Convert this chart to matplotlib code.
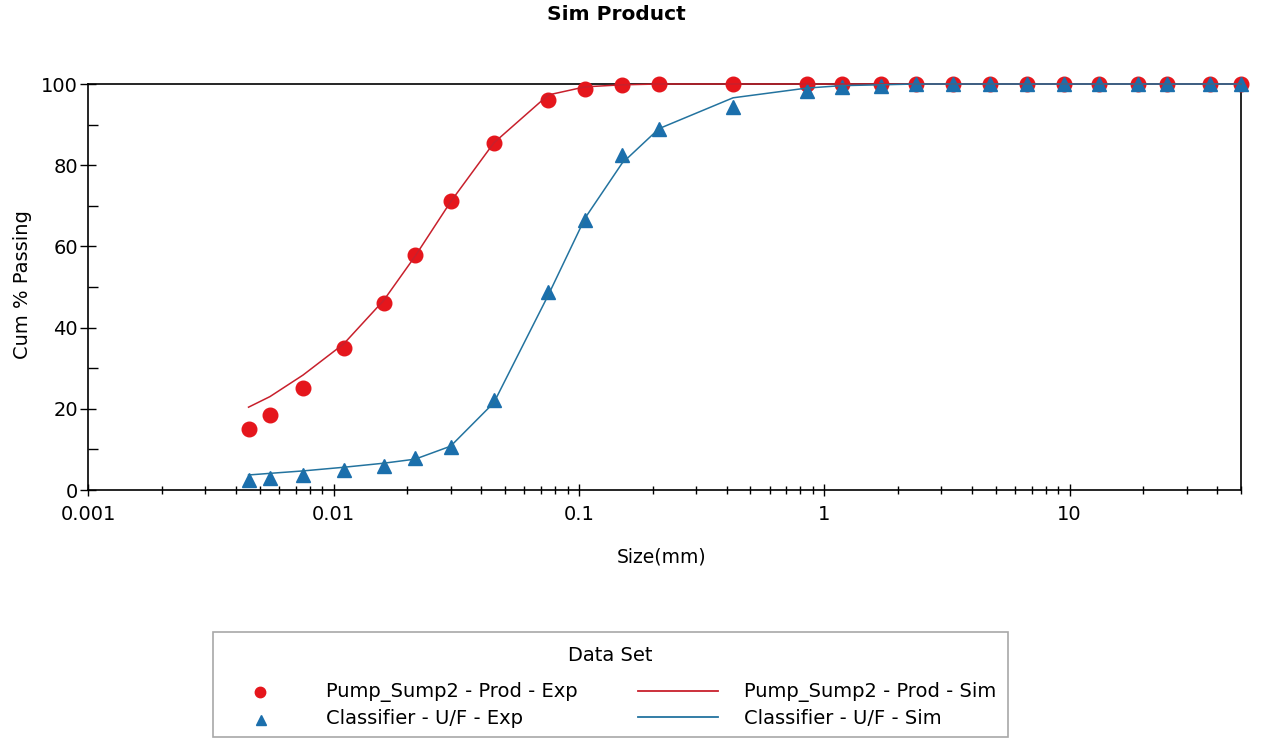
import matplotlib
matplotlib.use("Agg")
import matplotlib.pyplot as plt
from matplotlib.ticker import FixedLocator, FuncFormatter, MultipleLocator, LogLocator, NullFormatter
from matplotlib.patches import Rectangle
from matplotlib.lines import Line2D

plt.rcParams['font.family'] = ['DejaVu Sans']

# Sieve sizes (mm) and cumulative % passing
sizes = [0.0045, 0.0055, 0.0075, 0.011, 0.016, 0.0215, 0.03, 0.045, 0.075,
         0.106, 0.15, 0.212, 0.425, 0.85, 1.18, 1.7, 2.36, 3.35, 4.75, 6.7,
         9.5, 13.2, 19.0, 25.0, 37.5, 50.0]

pump_exp = [15.0, 18.5, 25.2, 34.9, 46.1, 58.0, 71.1, 85.4, 96.1, 98.8,
            99.8, 100, 100, 100, 100, 100, 100, 100, 100, 100,
            100, 100, 100, 100, 100, 100]
pump_sim = [20.4, 23.0, 28.3, 36.0, 46.7, 57.6, 71.0, 85.5, 97.3, 99.3,
            99.8, 100, 100, 100, 100, 100, 100, 100, 100, 100,
            100, 100, 100, 100, 100, 100]

clf_exp = [2.5, 2.9, 3.7, 4.9, 5.9, 7.8, 10.6, 22.2, 48.8, 66.4,
           82.4, 88.9, 94.3, 98.2, 99.3, 99.4, 100, 100, 100, 100,
           100, 100, 100, 100, 100, 100]
clf_sim = [3.7, 4.1, 4.7, 5.6, 6.6, 7.6, 10.8, 21.5, 48.0, 67.0,
           80.5, 89.0, 96.6, 99.0, 99.6, 99.8, 100, 100, 100, 100,
           100, 100, 100, 100, 100, 100]

labels = ["Pump_Sump2 - Prod - Exp", "Classifier - U/F - Exp",
          "Pump_Sump2 - Prod - Sim", "Classifier - U/F - Sim"]
x_tick_vals = [0.001, 0.01, 0.1, 1, 10]

RED_PT = '#e5161c'
BLUE_PT = '#1b6fac'
RED_LN = '#c8202c'
BLUE_LN = '#23739f'

W, H = 1264, 740
fig = plt.figure(figsize=(W / 100, H / 100), dpi=100, facecolor='white')

L, R, T, B = 88.3, 1241.0, 84.0, 490.0
ax = fig.add_axes([L / W, 1 - B / H, (R - L) / W, (B - T) / H])

ax.plot(sizes, pump_exp, linestyle='none', marker='o', ms=10.5, color=RED_PT,
        mec=RED_PT, clip_on=False, zorder=3)
ax.plot(sizes, clf_exp, linestyle='none', marker='^', ms=9.5, color=BLUE_PT,
        mec=BLUE_PT, clip_on=False, zorder=3.1)
ax.plot(sizes, pump_sim, color=RED_LN, lw=1.1, clip_on=False, zorder=3.2)
ax.plot(sizes, clf_sim, color=BLUE_LN, lw=1.1, clip_on=False, zorder=3.3)

ax.set_xscale('log')
ax.set_xlim(0.001, 50)
ax.set_ylim(0, 100)

ax.xaxis.set_major_locator(FixedLocator(x_tick_vals))
ax.xaxis.set_major_formatter(FuncFormatter(lambda v, p: '%g' % v))
ax.xaxis.set_minor_locator(LogLocator(base=10, subs=range(2, 10), numticks=50))
ax.xaxis.set_minor_formatter(NullFormatter())
ax.yaxis.set_major_locator(MultipleLocator(20))
ax.yaxis.set_minor_locator(MultipleLocator(10))

ax.tick_params(axis='x', which='major', direction='inout', length=9, width=1,
               labelsize=14, pad=6)
ax.tick_params(axis='x', which='minor', direction='inout', length=6, width=1)
ax.tick_params(axis='y', which='major', direction='inout', length=11, width=1,
               labelsize=14, pad=2)
ax.tick_params(axis='y', which='minor', direction='in', length=7, width=1)

for s in ax.spines.values():
    s.set_linewidth(1.2)
    s.set_color('black')

ax.set_xlabel('Size(mm)', fontsize=13.5, va='center')
ax.xaxis.set_label_coords((662 - L) / (R - L), (B - 557) / (B - T))
ax.set_ylabel('Cum % Passing', fontsize=14, va='center')
ax.yaxis.set_label_coords((22.5 - L) / (R - L), (B - 285) / (B - T))

fig.text(616 / W, 1 - 15 / H, 'Sim Product', fontsize=14.5, fontweight='bold',
         ha='center', va='center')

# Legend panel
bx0, by0, bx1, by1 = 212.7, 631.7, 1008.3, 736.7
lg = fig.add_axes([bx0 / W, 1 - by1 / H, (bx1 - bx0) / W, (by1 - by0) / H])
lg.set_xlim(0, bx1 - bx0)
lg.set_ylim(by1 - by0, 0)
lg.axis('off')
lg.add_patch(Rectangle((0, 0), bx1 - bx0, by1 - by0, fill=False,
                       edgecolor='#a8a8a8', lw=1.2, clip_on=False))
lg.text(397.3, 23.3, 'Data Set', fontsize=14, ha='center', va='center')

row_y = [60.0, 86.5]
lg.add_line(Line2D([47.3], [row_y[0]], marker='o', ms=7.5, color=RED_PT, ls='none'))
lg.add_line(Line2D([48.5], [row_y[1] + 1.5], marker='^', ms=6.5, color=BLUE_PT, ls='none'))
lg.add_line(Line2D([425.3, 505.3], [row_y[0] - 1, row_y[0] - 1], color=RED_LN, lw=1.3))
lg.add_line(Line2D([425.3, 505.3], [row_y[1] - 1, row_y[1] - 1], color=BLUE_LN, lw=1.3))
lg.text(113.3, row_y[0], labels[0], fontsize=14, ha='left', va='center')
lg.text(113.3, row_y[1], labels[1], fontsize=14, ha='left', va='center')
lg.text(531.3, row_y[0], labels[2], fontsize=14, ha='left', va='center')
lg.text(531.3, row_y[1], labels[3], fontsize=14, ha='left', va='center')

fig.savefig('out.png', dpi=100, facecolor='white')
